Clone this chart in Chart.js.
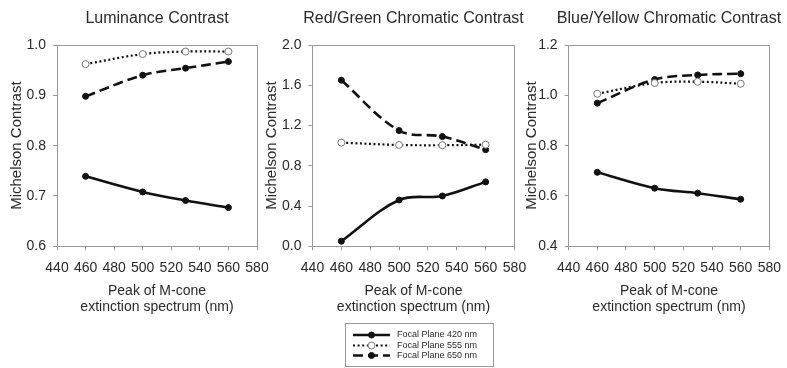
<!DOCTYPE html>
<html>
<head>
<meta charset="utf-8">
<script src="https://cdn.jsdelivr.net/npm/chart.js@4"></script>
<style>
  body { margin: 0; background: #fff; }
  #wrap { position: relative; width: 787px; height: 368px; overflow: hidden; }
  canvas { position: absolute; top: 0; }
</style>
</head>
<body>
<div id="wrap">
  <canvas id="lum" width="314" height="368" style="left:0px"></canvas>
  <canvas id="rg" width="317" height="368" style="left:255px"></canvas>
  <canvas id="by" width="314" height="368" style="left:512px"></canvas>
</div>
<script>
// peak wavelengths of the M-cone (x values)
const wavelengths = [460, 500, 530, 560];
const xTicks = [440, 460, 480, 500, 520, 540, 560, 580];

// luminance contrast
const lum420 = [0.739, 0.708, 0.691, 0.677];
const lum555 = [0.962, 0.982, 0.987, 0.987];
const lum650 = [0.898, 0.940, 0.954, 0.967];

// red/green chromatic contrast
const rg420 = [0.05, 0.46, 0.50, 0.64];
const rg555 = [1.03, 1.007, 1.004, 1.01];
const rg650 = [1.65, 1.15, 1.09, 0.96];

// blue/yellow chromatic contrast
const by420 = [0.694, 0.631, 0.611, 0.587];
const by555 = [1.006, 1.049, 1.054, 1.046];
const by650 = [0.969, 1.063, 1.081, 1.086];

const legendLabels = ["Focal Plane 420 nm", "Focal Plane 555 nm", "Focal Plane 650 nm"];
const panelTitles = ["Luminance Contrast", "Red/Green Chromatic Contrast", "Blue/Yellow Chromatic Contrast"];
const yTitle = "Michelson Contrast";
const xTitle = ["Peak of M-cone", "extinction spectrum (nm)"];

const FONT = "'Liberation Sans', Arial, sans-serif";
const AXIS = "#9a9a9a";
const INK = "#111";
const TXT = "#2a2a2a";

function pts(ys) {
    return wavelengths.map((w, i) => ({ x: w, y: ys[i] }));
}

function series(v420, v555, v650) {
    return [
        {
            label: legendLabels[0], data: pts(v420),
            borderColor: INK, borderWidth: 2.6, tension: 0.35,
            pointRadius: 3, pointBackgroundColor: INK, pointBorderColor: INK, pointBorderWidth: 1
        },
        {
            label: legendLabels[1], data: pts(v555),
            borderColor: INK, borderWidth: 2.2, borderDash: [2, 2.6], tension: 0.35,
            pointRadius: 3.5, pointBackgroundColor: "#fff", pointBorderColor: "#777", pointBorderWidth: 1
        },
        {
            label: legendLabels[2], data: pts(v650),
            borderColor: INK, borderWidth: 2.6, borderDash: [10, 5], tension: 0.35,
            pointRadius: 3, pointBackgroundColor: INK, pointBorderColor: INK, pointBorderWidth: 1
        }
    ];
}

// legend box under the middle panel
const legendBox = {
    id: "legendBox",
    afterDraw(chart) {
        const ctx = chart.ctx;
        const L = 90, T = 323, R = 238, B = 366;
        const rows = [335, 345.5, 355.5];
        ctx.save();
        ctx.strokeStyle = AXIS;
        ctx.lineWidth = 1;
        ctx.strokeRect(L + 0.5, T + 0.5, R - L, B - T);
        chart.data.datasets.forEach((ds, i) => {
            const y = rows[i];
            ctx.beginPath();
            ctx.setLineDash(ds.borderDash || []);
            ctx.lineWidth = ds.borderWidth;
            ctx.strokeStyle = INK;
            ctx.moveTo(98, y);
            ctx.lineTo(135, y);
            ctx.stroke();
            ctx.setLineDash([]);
            ctx.beginPath();
            ctx.arc(116.5, y, ds.pointRadius, 0, Math.PI * 2);
            ctx.fillStyle = ds.pointBackgroundColor;
            ctx.fill();
            ctx.lineWidth = 1;
            ctx.strokeStyle = ds.pointBorderColor;
            ctx.stroke();
            ctx.fillStyle = TXT;
            ctx.font = "9px " + FONT;
            ctx.textBaseline = "middle";
            ctx.fillText(legendLabels[i], 142, y);
        });
        ctx.restore();
    }
};

// canvas is made symmetric around the plot area so the title centres over it
function makePanel(id, title, data, yMin, yMax, yStep, g, withLegend) {
    const fixW = w => function (s) { s.width = w; s.paddingTop = 0; s.paddingBottom = 0; };
    const fixH = h => function (s) { s.height = h; s.paddingLeft = 0; s.paddingRight = 0; };
    return new Chart(document.getElementById(id), {
        type: "line",
        data: { datasets: data },
        plugins: withLegend ? [legendBox] : [],
        options: {
            responsive: false,
            animation: false,
            devicePixelRatio: 1,
            layout: { padding: { left: 0, right: 0, top: 0, bottom: 52 } },
            plugins: {
                legend: { display: false },
                tooltip: { enabled: false },
                title: {
                    display: true, text: title, color: TXT,
                    font: { family: FONT, size: 16, weight: "normal" },
                    padding: { top: 9.4, bottom: 0 }
                }
            },
            scales: {
                x: {
                    type: "linear", position: "bottom", min: 440, max: 580,
                    afterBuildTicks: s => { s.ticks = xTicks.map(v => ({ value: v })); },
                    ticks: { color: TXT, font: { family: FONT, size: 14 }, padding: 9, maxRotation: 0 },
                    grid: { drawOnChartArea: false, drawTicks: true, tickLength: 4, color: AXIS },
                    border: { color: AXIS, width: 1 },
                    title: { display: true, text: xTitle, color: TXT, font: { family: FONT, size: 14 }, padding: { top: 0, bottom: 0 } },
                    afterFit: fixH(69.7)
                },
                x2: {
                    type: "linear", position: "top", min: 440, max: 580,
                    ticks: { display: false },
                    grid: { display: false },
                    border: { color: AXIS, width: 1 },
                    afterFit: fixH(16.4)
                },
                y: {
                    type: "linear", position: "left", min: yMin, max: yMax,
                    ticks: { stepSize: yStep, color: TXT, font: { family: FONT, size: 14 }, padding: 7,
                        callback: v => v.toFixed(1) },
                    grid: { drawOnChartArea: false, drawTicks: true, tickLength: 4, color: AXIS },
                    border: { color: AXIS, width: 1 },
                    title: { display: true, text: yTitle, color: TXT, font: { family: FONT, size: 15 }, padding: { top: g.titlePad, bottom: 0 } },
                    afterFit: fixW(g.left)
                },
                y2: {
                    type: "linear", position: "right", min: yMin, max: yMax,
                    ticks: { display: false },
                    grid: { display: false },
                    border: { color: AXIS, width: 1 },
                    afterFit: fixW(g.left)
                }
            }
        }
    });
}

makePanel("lum", panelTitles[0], series(lum420, lum555, lum650), 0.6, 1.0, 0.1, { left: 57, titlePad: 8 }, false);
makePanel("rg", panelTitles[1], series(rg420, rg555, rg650), 0.0, 2.0, 0.4, { left: 57.5, titlePad: 8 }, true);
makePanel("by", panelTitles[2], series(by420, by555, by650), 0.4, 1.2, 0.2, { left: 56.6, titlePad: 11 }, false);
</script>
</body>
</html>
